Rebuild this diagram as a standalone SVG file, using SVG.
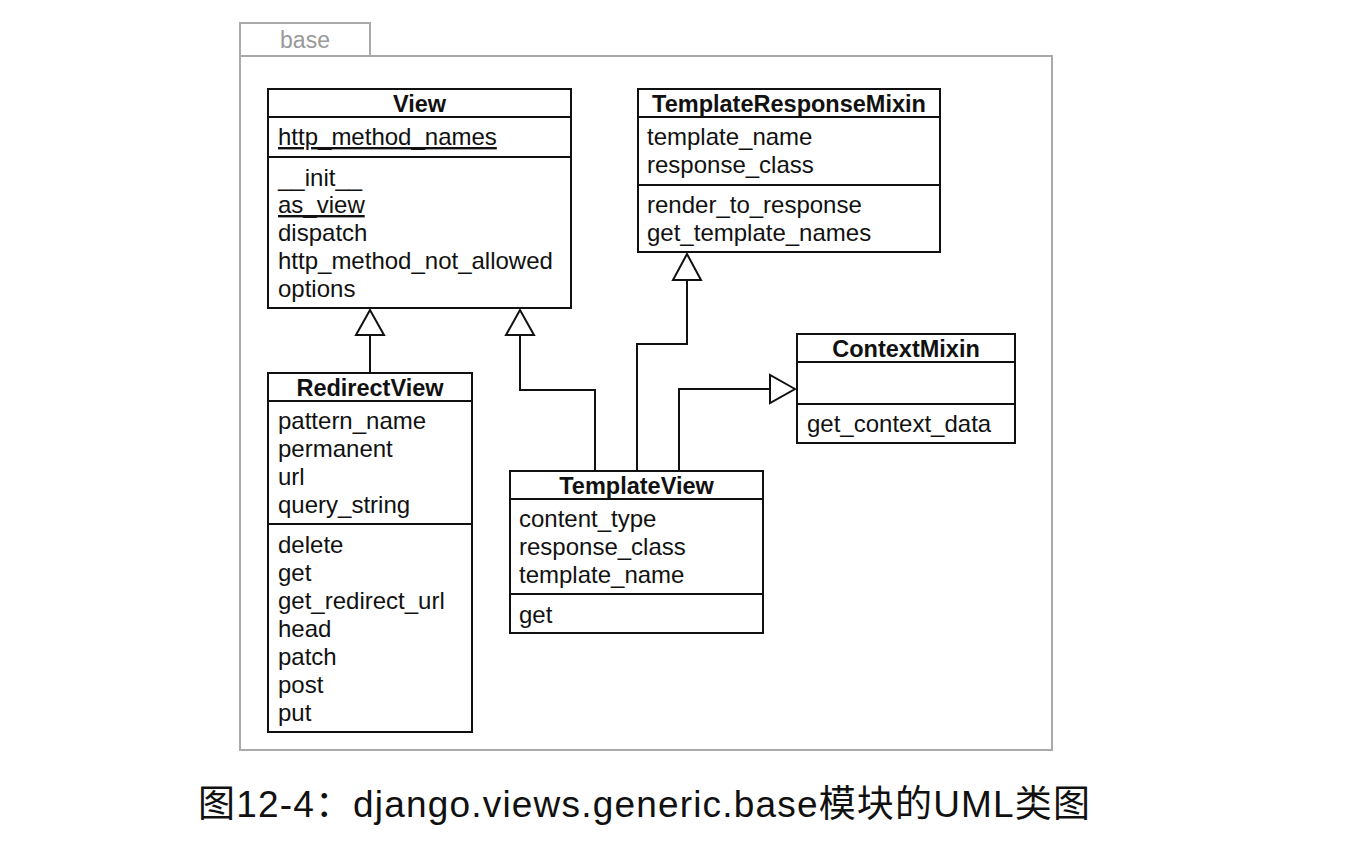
<svg xmlns="http://www.w3.org/2000/svg" width="1352" height="854" viewBox="0 0 1352 854">
<style>
.pkg{fill:#fff;stroke:#aaa;stroke-width:2}
.box{fill:#fff;stroke:#111;stroke-width:2}
.ln{stroke:#111;stroke-width:2;fill:none}
.t{font-family:"Liberation Sans",Arial,sans-serif;font-size:24px;fill:#111}
.h{font-family:"Liberation Sans",Arial,sans-serif;font-size:23.5px;font-weight:bold;fill:#111;text-anchor:middle}
.u{text-decoration:underline}
.tri{fill:#fff;stroke:#111;stroke-width:2}
</style>
<rect width="1352" height="854" fill="#fff"/>
<g id="package">
<rect class="pkg" x="240" y="23" width="130" height="33"/>
<rect class="pkg" x="240" y="56" width="812" height="694"/>
<text x="305" y="48" font-family="Liberation Sans,Arial,sans-serif" font-size="23" fill="#999" text-anchor="middle">base</text>
</g>
<g id="connectors">
<path class="ln" d="M370 373 V335"/>
<polygon class="tri" points="370,310 356,335 384,335"/>
<path class="ln" d="M595 471 V390 H520 V335"/>
<polygon class="tri" points="520,310 506,335 534,335"/>
<path class="ln" d="M637 471 V344 H687 V280"/>
<polygon class="tri" points="687,254 673,280 701,280"/>
<path class="ln" d="M679 471 V389 H770"/>
<polygon class="tri" points="795,389 770,375 770,403"/>
</g>
<g id="View">
<rect class="box" x="268" y="89" width="303" height="219"/>
<path class="ln" d="M268 117 H571 M268 157 H571"/>
<text class="h" x="419.500" y="112">View</text>
<text class="t u" x="278" y="145">http_method_names</text>
<text class="t" x="278" y="186">__init__</text>
<text class="t u" x="278" y="213">as_view</text>
<text class="t" x="278" y="241">dispatch</text>
<text class="t" x="278" y="269">http_method_not_allowed</text>
<text class="t" x="278" y="297">options</text>
</g>
<g id="TemplateResponseMixin">
<rect class="box" x="638" y="89" width="302" height="163"/>
<path class="ln" d="M638 117 H940 M638 185 H940"/>
<text class="h" x="789" y="112">TemplateResponseMixin</text>
<text class="t" x="647" y="145">template_name</text>
<text class="t" x="647" y="173">response_class</text>
<text class="t" x="647" y="213">render_to_response</text>
<text class="t" x="647" y="241">get_template_names</text>
</g>
<g id="ContextMixin">
<rect class="box" x="797" y="334" width="218" height="109"/>
<path class="ln" d="M797 362 H1015 M797 404 H1015"/>
<text class="h" x="906" y="357">ContextMixin</text>
<text class="t" x="807" y="432">get_context_data</text>
</g>
<g id="RedirectView">
<rect class="box" x="268" y="373" width="204" height="359"/>
<path class="ln" d="M268 401 H472 M268 524 H472"/>
<text class="h" x="370" y="396">RedirectView</text>
<text class="t" x="278" y="429">pattern_name</text>
<text class="t" x="278" y="457">permanent</text>
<text class="t" x="278" y="485">url</text>
<text class="t" x="278" y="513">query_string</text>
<text class="t" x="278" y="553">delete</text>
<text class="t" x="278" y="581">get</text>
<text class="t" x="278" y="609">get_redirect_url</text>
<text class="t" x="278" y="637">head</text>
<text class="t" x="278" y="665">patch</text>
<text class="t" x="278" y="693">post</text>
<text class="t" x="278" y="721">put</text>
</g>
<g id="TemplateView">
<rect class="box" x="510" y="471" width="253" height="162"/>
<path class="ln" d="M510 499 H763 M510 594 H763"/>
<text class="h" x="636.500" y="494">TemplateView</text>
<text class="t" x="519" y="527">content_type</text>
<text class="t" x="519" y="555">response_class</text>
<text class="t" x="519" y="583">template_name</text>
<text class="t" x="519" y="623">get</text>
</g>
<g id="caption">
<text x="198" y="817" font-family="Liberation Sans,Noto Sans CJK SC,sans-serif" font-size="37" fill="#111" textLength="892" lengthAdjust="spacing">图12-4：django.views.generic.base模块的UML类图</text>
</g>
</svg>
